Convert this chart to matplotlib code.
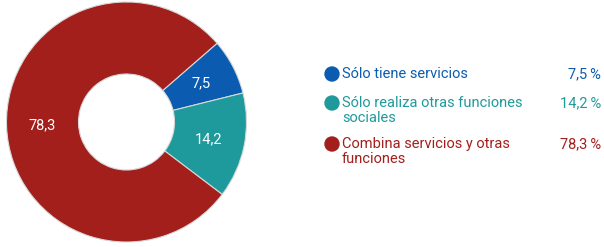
import matplotlib
matplotlib.use("Agg")
import matplotlib.pyplot as plt

categories = ["Sólo tiene servicios", "Sólo realiza otras funciones\nsociales", "Combina servicios y otras\nfunciones"]
values = [7.5, 14.2, 78.3]
value_labels = ["7,5", "14,2", "78,3"]
pct_labels = ["7,5\u2009%", "14,2\u2009%", "78,3\u2009%"]
colors = ["#0b5cb0", "#1f9a9c", "#a21f1c"]

plt.rcParams['font.family'] = ['Roboto', 'DejaVu Sans']

W, H = 604, 247
fig = plt.figure(figsize=(W / 100, H / 100), dpi=100)

# pie axes: center (126,122) px, radius 120 px
cx, cy, r = 126.5, 122, 120
ax = fig.add_axes([(cx - r) / W, (H - cy - r) / H, 2 * r / W, 2 * r / H])
wedges, texts = ax.pie(values, colors=colors, startangle=41, counterclock=False,
                       radius=1, labels=value_labels, labeldistance=0.7,
                       wedgeprops=dict(width=0.6, edgecolor='#d8d8d8', linewidth=0.8),
                       textprops=dict(color='white', fontsize=10.5))
for t in texts:
    t.set_ha('center'); t.set_va('center')
ax.set_xlim(-1, 1)
ax.set_ylim(-1, 1)
ax.set_aspect('equal')
ax.axis('off')

# legend
rows_y = [74, 103, 144]
marker_x = 332
text_x = 342
pct_x = 601
for y, cat, pct, c in zip(rows_y, categories, pct_labels, colors):
    fig.patches.append(matplotlib.patches.Ellipse((marker_x / W, 1 - y / H), 14 / W, 14 / H,
                                                  transform=fig.transFigure, color=c))
    fig.text(text_x / W, 1 - (y - 7) / H, cat, color=c, fontsize=10.5, ha='left', va='top',
             linespacing=1.05)
    fig.text(pct_x / W, 1 - y / H, pct, color=c, fontsize=10.5, ha='right', va='center')

fig.savefig("out.png", dpi=100, facecolor='white')
